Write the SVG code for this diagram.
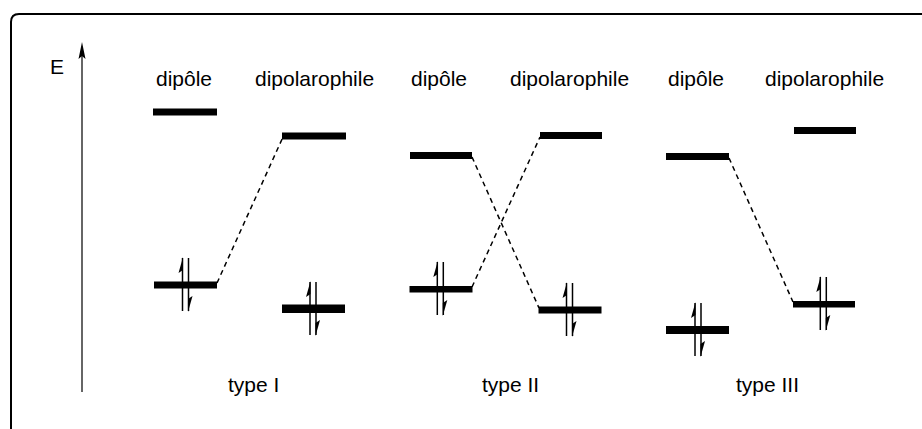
<svg xmlns="http://www.w3.org/2000/svg" width="922" height="429" viewBox="0 0 922 429">
<defs>
<style>
.t{font-family:"Liberation Sans",Arial,sans-serif;font-size:21px;fill:#000}
.bar{fill:#000}
.dash{stroke:#000;stroke-width:1.5;stroke-dasharray:5 4;fill:none}
.ln{stroke:#000;stroke-width:1.5;fill:none}
</style>
<g id="pair">
<line class="ln" x1="-3" y1="-27" x2="-3" y2="26"/>
<line class="ln" x1="3" y1="-27" x2="3" y2="26"/>
<polygon points="-2.5,-28 -7,-12 -2.5,-15" fill="#000"/>
<polygon points="2.5,27 7,11 2.5,14" fill="#000"/>
</g>
</defs>
<rect width="922" height="429" fill="#fff"/>
<path d="M11,429 V22 Q11,14 19,14 H922" fill="none" stroke="#000" stroke-width="2"/>
<g id="axis">
<line x1="82" y1="392" x2="82" y2="55" stroke="#333" stroke-width="1.5"/>
<polygon points="82,42 78.5,59 82,56 85.5,59" fill="#000"/>
<text class="t" x="50" y="73.5">E</text>
</g>
<g id="labels">
<text class="t" x="156" y="86">dipôle</text>
<text class="t" x="255" y="86">dipolarophile</text>
<text class="t" x="411" y="86">dipôle</text>
<text class="t" x="510" y="86">dipolarophile</text>
<text class="t" x="668" y="86">dipôle</text>
<text class="t" x="765" y="86">dipolarophile</text>
<text class="t" x="228" y="392">type I</text>
<text class="t" x="482" y="392">type II</text>
<text class="t" x="736" y="392">type III</text>
</g>
<g id="connectors">
<line class="dash" x1="217" y1="283" x2="283" y2="137"/>
<line class="dash" x1="472" y1="287" x2="540" y2="137"/>
<line class="dash" x1="472" y1="157" x2="539" y2="308"/>
<line class="dash" x1="729" y1="158" x2="793" y2="302"/>
</g>
<g id="typeI-dipole-LUMO"><rect class="bar" x="153" y="108.5" width="64" height="7"/></g>
<g id="typeI-dipolarophile-LUMO"><rect class="bar" x="282" y="132.5" width="64" height="7"/></g>
<g id="typeI-dipole-HOMO"><rect class="bar" x="154" y="281.5" width="63" height="7"/><use href="#pair" x="185.5" y="285"/></g>
<g id="typeI-dipolarophile-HOMO"><rect class="bar" x="282" y="304.5" width="63" height="8.5"/><use href="#pair" x="313" y="309"/></g>
<g id="typeII-dipole-LUMO"><rect class="bar" x="410" y="152" width="62" height="7"/></g>
<g id="typeII-dipolarophile-LUMO"><rect class="bar" x="540" y="132" width="62" height="7"/></g>
<g id="typeII-dipole-HOMO"><rect class="bar" x="409.5" y="286" width="63" height="6.5"/><use href="#pair" x="440.3" y="289"/></g>
<g id="typeII-dipolarophile-HOMO"><rect class="bar" x="538.5" y="306.5" width="63" height="7"/><use href="#pair" x="569.5" y="310"/></g>
<g id="typeIII-dipole-LUMO"><rect class="bar" x="666" y="153" width="63" height="7"/></g>
<g id="typeIII-dipolarophile-LUMO"><rect class="bar" x="794" y="127" width="62" height="7"/></g>
<g id="typeIII-dipole-HOMO"><rect class="bar" x="666" y="326" width="63" height="8"/><use href="#pair" x="698" y="330"/></g>
<g id="typeIII-dipolarophile-HOMO"><rect class="bar" x="793" y="301" width="62" height="6.5"/><use href="#pair" x="823.3" y="304"/></g>
</svg>
